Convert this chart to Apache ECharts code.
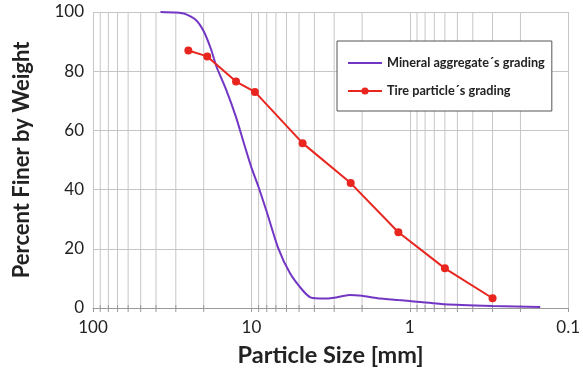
<!DOCTYPE html>
<html>
<head>
<meta charset="utf-8">
<script src="https://cdn.jsdelivr.net/npm/echarts@6/dist/echarts.min.js"></script>
<style>
  html, body { margin: 0; padding: 0; background: #fff; }
  #chart { width: 583px; height: 373px; }
</style>
</head>
<body>
<div id="chart"></div>
<script>
// Sieve analysis: particle size (mm) vs. percent passing
const mineralSizes   = [37.5, 30, 26, 22.4, 20, 18, 16.6, 14.5, 12.5, 11.2, 10, 9, 8, 6.8, 5.7, 4.75, 4.2, 3.5, 3, 2.4, 2, 1.6, 1.18, 1, 0.6, 0.3, 0.15];
const mineralPassing = [100, 99.8, 99.3, 97.3, 93.5, 87.5, 81.5, 74, 64.5, 56, 47.5, 40.8, 32.5, 20.5, 11.7, 6, 3.5, 3.2, 3.5, 4.4, 4.1, 3.3, 2.7, 2.4, 1.3, 0.7, 0.3];

const tireSizes   = [25, 19, 12.5, 9.5, 4.75, 2.36, 1.18, 0.6, 0.3];
const tirePassing = [87, 85, 76.5, 73, 55.7, 42.2, 25.6, 13.4, 3.3];

// Intermediate log-decade lines (2..9 of each decade)
const minorGridValues = [90, 80, 70, 60, 50, 40, 30, 20, 9, 8, 7, 6, 5, 4, 3, 2, 0.9, 0.8, 0.7, 0.6, 0.5, 0.4, 0.3, 0.2];

const seriesNames = ['Mineral aggregate\u00b4s grading', 'Tire particle\u00b4s grading'];

const FONT = 'Lato';
const GRID_COLOR = '#c6c6c6';
const PURPLE = '#7236c4';
const RED = '#e8261f';

// legend icons; the tiny corner specks keep the full 34x14 icon box
const BOX_SPECKS = 'M0,0L0.01,0L0,0.01Z M34,14L33.99,14L34,13.99Z';
const LINE_ICON = 'path://' + BOX_SPECKS + ' M0,5.9L34,5.9L34,8.1L0,8.1Z';
const LINE_DOT_ICON = 'path://' + BOX_SPECKS + ' M0,5.9L34,5.9L34,8.1L0,8.1Z M20.6,7A3.6,3.6 0 1 1 13.4,7A3.6,3.6 0 1 1 20.6,7Z';

const chart = echarts.init(document.getElementById('chart'), null, { renderer: 'canvas' });

chart.setOption({
  backgroundColor: '#ffffff',
  animation: false,
  textStyle: { fontFamily: FONT },
  grid: { left: 93, right: 10, top: 12, bottom: 65, containLabel: false },
  legend: {
    orient: 'vertical',
    left: 337,
    top: 41,
    data: [
      { name: seriesNames[0], icon: LINE_ICON },
      { name: seriesNames[1], icon: LINE_DOT_ICON }
    ],
    backgroundColor: '#ffffff',
    borderColor: '#555555',
    borderWidth: 1,
    padding: [15, 7, 13, 11],
    itemGap: 14,
    itemWidth: 34,
    itemHeight: 14,
    textStyle: { fontFamily: FONT, fontSize: 12.7, fontWeight: 'bold', color: '#222' }
  },
  xAxis: {
    type: 'log',
    logBase: 10,
    min: 0.1,
    max: 100,
    inverse: true,
    name: 'Particle Size [mm]',
    nameLocation: 'middle',
    nameGap: 35,
    nameTextStyle: { fontFamily: FONT, fontSize: 23.5, fontWeight: 'bold', color: '#222' },
    axisLine: { show: true, lineStyle: { color: '#9a9a9a', width: 1 } },
    axisTick: { show: true, length: 4, lineStyle: { color: '#9a9a9a' } },
    axisLabel: {
      fontFamily: FONT, fontSize: 17, color: '#222', margin: 11,
      formatter: v => String(+v.toPrecision(3))
    },
    splitLine: { show: true, lineStyle: { color: GRID_COLOR, width: 1 } }
  },
  yAxis: {
    type: 'value',
    min: 0,
    max: 100,
    interval: 20,
    name: 'Percent Finer by Weight',
    nameLocation: 'middle',
    nameGap: 60,
    nameTextStyle: { fontFamily: FONT, fontSize: 22, fontWeight: 'bold', color: '#222' },
    axisLine: { show: false },
    axisTick: { show: false },
    axisLabel: { fontFamily: FONT, fontSize: 17, color: '#222', margin: 9 },
    splitLine: { show: true, lineStyle: { color: GRID_COLOR, width: 1 } }
  },
  series: [
    {
      // minor vertical grid lines with small ticks across the axis
      type: 'custom',
      silent: true,
      z: 1,
      clip: false,
      encode: { x: 0, y: 1 },
      data: minorGridValues.map(v => [v, 0]),
      renderItem: function (params, api) {
        const bottom = api.coord([api.value(0), 0]);
        const top = api.coord([api.value(0), 100]);
        return {
          type: 'group',
          children: [
            {
              type: 'line',
              shape: { x1: bottom[0], y1: top[1], x2: bottom[0], y2: bottom[1] },
              style: { stroke: GRID_COLOR, lineWidth: 1 }
            },
            {
              type: 'line',
              shape: { x1: bottom[0], y1: bottom[1] - 3, x2: bottom[0], y2: bottom[1] + 4 },
              style: { stroke: '#9a9a9a', lineWidth: 1 }
            }
          ]
        };
      }
    },
    {
      name: seriesNames[0],
      type: 'line',
      z: 3,
      symbol: 'none',
      smooth: 0.2,
      data: mineralSizes.map((s, i) => [s, mineralPassing[i]]),
      lineStyle: { color: PURPLE, width: 2 },
      itemStyle: { color: PURPLE }
    },
    {
      name: seriesNames[1],
      type: 'line',
      z: 4,
      symbol: 'circle',
      symbolSize: 8,
      data: tireSizes.map((s, i) => [s, tirePassing[i]]),
      lineStyle: { color: RED, width: 2 },
      itemStyle: { color: RED }
    }
  ]
});
</script>
</body>
</html>
